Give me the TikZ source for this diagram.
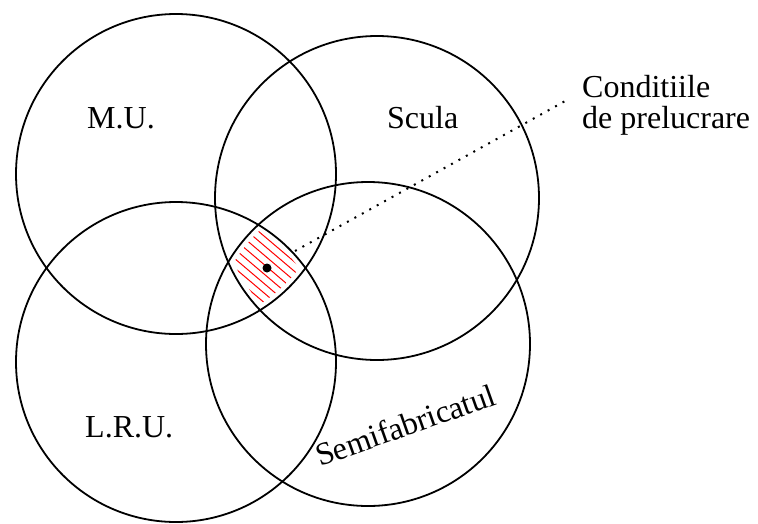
\documentclass[tikz,border=0pt]{standalone}
\usepackage{fontspec}
\setmainfont{Liberation Serif}
\usetikzlibrary{calc}
\begin{document}
\begin{tikzpicture}[x=1pt,y=-1pt,
  ring/.style={draw, line width=1.8pt, circle, inner sep=0pt},
  lbl/.style={inner sep=0pt, anchor=base west, font=\fontsize{32}{31}\selectfont},
  hatch/.style={red, line width=1pt},
  lead/.style={line width=2pt, dash pattern=on 2pt off 6.5pt}]
\useasboundingbox (0,0) rectangle (758,523);
% hatched common region
\begin{scope}
  \clip (176,174) circle (155pt);
  \clip (377,198) circle (157pt);
  \clip (176,362) circle (155pt);
  \clip (368,344) circle (157pt);
  \foreach \k in {-5,...,5} {
    \draw[hatch] ($(267,267)+\k*(4.7,-5.5)+(-46,-39)$) -- ++(92,78);
  }
\end{scope}
% circles
\node[ring, minimum size=320pt] (mu) at (176,174) {};
\node[ring, minimum size=324pt] (scula) at (377,198) {};
\node[ring, minimum size=320pt] (lru) at (176,362) {};
\node[ring, minimum size=324pt] (semi) at (368,344) {};
% central point
\node[circle, fill=black, inner sep=0pt, minimum size=9pt] (dot) at (267,268) {};
% labels
\node[lbl] (tmu) at (87,128) {M.U.};
\node[lbl] (tscula) at (387,128) {Scula};
\node[lbl] (tlru) at (85,437) {L.R.U.};
\node[lbl, rotate=19.5] (tsemi) at (320,467) {Semifabricatul};
\node[lbl] (tcond1) at (582,97) {Conditiile};
\node[lbl] (tcond2) at (582,128) {de prelucrare};
% leader line
\coordinate (leadstart) at (295,251);
\coordinate (leadend) at (567,100);
\draw[lead] (leadstart) -- (leadend);
\end{tikzpicture}
\end{document}
